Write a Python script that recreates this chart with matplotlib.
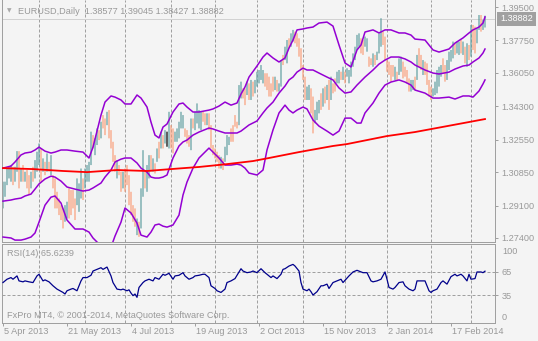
import matplotlib
matplotlib.use("Agg")
import matplotlib.pyplot as plt

plt.rcParams['font.family'] = ['Liberation Sans', 'DejaVu Sans']

# ---------------- data ----------------
symbol = 'EURUSD,Daily'
last_ohlc = [1.38577, 1.39045, 1.38427, 1.38882]
rsi_last = 65.6239

highs = [
    1.3035,1.3035,1.3104,1.3113,1.3122,1.3113,1.3113,1.3195,1.3195,1.3104,1.3122,1.3087,1.3096,1.3069,1.3087,1.3113,1.3148,1.3192,1.3235,1.3209,
    1.3157,1.3139,1.3183,1.3139,1.3174,1.3069,1.3052,1.2982,1.2947,1.2912,1.2895,1.2912,1.2930,1.3000,1.2991,1.2991,1.2947,1.3052,1.3026,1.3104,
    1.3052,1.3104,1.3122,1.3139,1.3297,1.3279,1.3262,1.3314,1.3305,1.3349,1.3384,1.3366,1.3401,1.3410,1.3305,1.3244,1.3174,1.3148,1.3122,1.3087,
    1.3087,1.3104,1.3122,1.3069,1.2982,1.2912,1.2895,1.2842,1.2825,1.3000,1.3200,1.3087,1.3122,1.3174,1.3174,1.3157,1.3131,1.3209,1.3244,1.3297,
    1.3279,1.3305,
    1.3297,1.3401,1.3331,1.3314,1.3297,1.3314,1.3349,1.3401,1.3384,1.3314,1.3305,1.3279,1.3366,1.3366,1.3401,1.3445,1.3410,1.3401,1.3401,1.3393,
    1.3393,1.3393,1.3331,1.3227,1.3209,1.3192,1.3174,1.3165,1.3157,1.3218,1.3279,1.3270,1.3314,1.3331,1.3384,1.3349,1.3541,1.3559,1.3524,1.3524,
    1.3559,
    1.3550,1.3568,1.3559,1.3568,1.3611,1.3620,1.3646,1.3620,1.3603,1.3603,1.3585,1.3550,1.3585,1.3585,1.3568,1.3550,1.3672,1.3699,1.3742,1.3777,
    1.3786,1.3812,1.3830,1.3821,1.3812,1.3786,1.3734,1.3646,1.3585,1.3533,1.3542,1.3524,1.3481,1.3411,1.3454,1.3463,1.3498,1.3524,1.3533,1.3542,
    1.3568,1.3585,
    1.3550,1.3576,1.3611,1.3620,1.3611,1.3637,1.3611,1.3629,1.3620,1.3664,1.3707,1.3742,1.3804,1.3812,1.3786,1.3777,1.3795,1.3786,1.3690,1.3681,
    1.3707,1.3699,1.3716,1.3812,1.3891,1.3821,1.3795,1.3672,1.3664,1.3646,1.3646,1.3637,1.3611,1.3681,1.3690,1.3664,1.3637,1.3620,1.3576,1.3568,
    1.3568,
    1.3585,
    1.3699,1.3734,1.3699,1.3672,1.3664,1.3655,1.3568,1.3533,1.3524,1.3559,1.3620,1.3637,1.3646,1.3681,1.3646,1.3672,1.3716,1.3725,1.3769,1.3760,
    1.3769,1.3769,1.3777,1.3769,1.3742,1.3760,1.3751,1.3856,1.3856,1.3847,1.3838,1.3908,1.3908,1.3882,1.39045,
]

lows = [
    1.2895,1.2956,1.3017,1.3052,1.3035,1.3017,1.3035,1.3087,1.3000,1.3035,1.3035,1.3035,1.3000,1.2965,1.3000,1.3035,1.3052,1.3087,1.3122,1.3035,
    1.3087,1.3069,1.3087,1.3087,1.3069,1.3000,1.2895,1.2895,1.2860,1.2834,1.2790,1.2825,1.2842,1.2842,1.2860,1.2895,1.2834,1.2912,1.2877,1.2947,
    1.2939,1.3000,1.3035,1.3035,1.3122,1.3209,1.3174,1.3227,1.3253,1.3262,1.3314,1.3279,1.3331,1.3262,1.3209,1.3139,1.3087,1.3052,1.3069,1.2982,
    1.3000,1.2982,1.3017,1.2912,1.2860,1.2825,1.2799,1.2755,1.2746,1.2790,1.2956,1.3000,1.2982,1.3052,1.3087,1.3087,1.3078,1.3139,1.3157,1.3209,
    1.3209,1.3235,
    1.3218,1.3209,1.3209,1.3183,1.3244,1.3244,1.3262,1.3314,1.3314,1.3270,1.3235,1.3218,1.3200,1.3314,1.3305,1.3340,1.3314,1.3305,1.3349,1.3331,
    1.3331,1.3305,1.3209,1.3174,1.3157,1.3139,1.3104,1.3104,1.3096,1.3139,1.3174,1.3227,1.3244,1.3244,1.3323,1.3314,1.3331,1.3471,1.3471,1.3436,
    1.3489,
    1.3463,1.3463,1.3481,1.3498,1.3533,1.3550,1.3568,1.3550,1.3533,1.3515,1.3481,1.3481,1.3507,1.3515,1.3507,1.3507,1.3533,1.3646,1.3672,1.3655,
    1.3734,1.3742,1.3769,1.3760,1.3742,1.3690,1.3620,1.3568,1.3463,1.3463,1.3463,1.3393,1.3288,1.3341,1.3358,1.3393,1.3411,1.3428,1.3445,1.3463,
    1.3411,1.3463,
    1.3498,1.3507,1.3550,1.3550,1.3568,1.3568,1.3550,1.3585,1.3550,1.3585,1.3637,1.3672,1.3725,1.3742,1.3707,1.3699,1.3742,1.3716,1.3637,1.3646,
    1.3637,1.3646,1.3672,1.3707,1.3742,1.3751,1.3672,1.3611,1.3594,1.3559,1.3585,1.3568,1.3568,1.3594,1.3611,1.3576,1.3585,1.3550,1.3507,1.3507,
    1.3515,
    1.3515,
    1.3568,1.3637,1.3620,1.3594,1.3594,1.3542,1.3481,1.3463,1.3481,1.3489,1.3498,1.3533,1.3585,1.3603,1.3559,1.3568,1.3620,1.3664,1.3681,1.3699,
    1.3707,1.3699,1.3707,1.3699,1.3655,1.3637,1.3672,1.3690,1.3725,1.3707,1.3760,1.3830,1.3821,1.3830,1.38427,
]

# 1 = bull bar, 0 = bear bar, 2 = doji
direction = [
    1,1,1,1,1,0,1,1,0,1, 0,1,0,0,1,0,1,1,1,0, 1,0,1,0,1,0,0,0,0,0, 0,1,1,0,0,0,0,1,1,1,
    0,1,1,1,1,0,1,1,0,1, 0,0,1,0,0,0,0,1,0,0, 1,0,0,0,0,0,0,1,0,1, 1,0,1,1,0,1,0,1,0,1, 0,1,
    2,1,0,0,1,1,1,1,1,0, 0,0,1,0,1,1,1,1,0,0, 1,0,0,0,0,0,0,1,0,1, 1,1,0,0,0,0,1,1,0,0, 1,
    0,1,0,1,1,1,1,1,0,0, 0,0,0,1,0,1,1,0,1,1, 0,1,1,0,0,0,0,0,0,1, 1,0,0,1,1,1,0,1,0,1, 0,1,
    0,0,1,1,0,1,0,1,1,1, 1,1,1,1,0,0,1,1,0,0, 1,0,1,1,1,0,0,0,0,0, 0,1,0,1,1,0,0,0,0,1, 1,
    0,
    1,0,0,1,0,0,0,0,1,1, 1,1,1,0,0,1,1,1,1,0, 1,1,0,1,0,1,0,1,0,0, 1,1,0,1,1,
]

bb_bars = [0,4,6,9,11,14,16,18,21,24,26,29,32,36,40,43,45,49,51,54,56,59,61,64,67,69,72,74,76,78,
           80,82,85,88,90,92,95,98,103,105,108,111,114,117,119,121,123,127,130,132,135,138,141,143,145,147,150,152,155,158,
           162,165,168,171,174,177,179,181,185,188,191,194,198,201,204,206,211,215,218,223,226,230,233,235,238,240,241]
bb_upper = [1.3106,1.3117,1.3138,1.3175,1.3185,1.3190,1.3201,1.3216,1.3195,1.3185,
            1.3190,1.3201,1.3201,1.3195,1.3190,1.3159,1.3216,1.3384,1.3452,1.3484,
            1.3478,1.3463,1.3442,1.3442,1.3489,1.3473,1.3426,1.3347,1.3279,1.3264,
            1.3321,1.3337,1.3400,1.3442,1.3447,1.3426,1.3400,1.3400,1.3410,1.3416,
            1.3431,1.3452,1.3436,1.3447,1.3494,1.3531,1.3583,1.3641,1.3688,1.3709,
            1.3683,1.3662,1.3683,1.3735,1.3777,1.3830,1.3835,1.3840,1.3845,1.3866,
            1.3871,1.3850,1.3751,1.3657,1.3636,1.3725,1.3751,1.3819,1.3830,1.3814,
            1.3830,1.3830,1.3814,1.3814,1.3803,1.3782,1.3777,1.3725,1.3714,1.3730,
            1.3761,1.3788,1.3814,1.3830,1.3845,1.3866,1.3898]
bb_middle = [1.2933,1.2939,1.2944,1.2949,1.2960,1.2970,1.2996,1.3023,1.3049,1.3064,
             1.3059,1.3038,1.3007,1.2996,1.2986,1.2991,1.3002,1.3028,1.3059,1.3096,
             1.3138,1.3153,1.3159,1.3159,1.3133,1.3106,1.3085,1.3059,1.3054,1.3054,
             1.3059,1.3070,1.3159,1.3222,1.3243,1.3253,1.3279,1.3295,1.3316,1.3311,
             1.3300,1.3290,1.3290,1.3290,1.3300,1.3316,1.3332,1.3353,1.3395,1.3421,
             1.3452,1.3499,1.3536,1.3568,1.3583,1.3609,1.3630,1.3620,1.3620,1.3604,
             1.3583,1.3568,1.3526,1.3499,1.3505,1.3541,1.3562,1.3583,1.3620,1.3651,
             1.3672,1.3688,1.3688,1.3678,1.3662,1.3646,1.3620,1.3604,1.3599,1.3609,
             1.3625,1.3641,1.3646,1.3662,1.3683,1.3709,1.3730]
bb_lower = [1.2745,1.2740,1.2729,1.2729,1.2734,1.2745,1.2766,1.2823,1.2912,1.2954,
            1.2960,1.2923,1.2834,1.2787,1.2787,1.2771,1.2740,1.2698,1.2677,1.2692,
            1.2750,1.2823,1.2897,1.2871,1.2818,1.2755,1.2745,1.2771,1.2808,1.2813,
            1.2802,1.2797,1.2808,1.2860,1.2965,1.3033,1.3106,1.3159,1.3211,1.3190,
            1.3159,1.3122,1.3122,1.3127,1.3122,1.3106,1.3080,1.3070,1.3096,1.3201,
            1.3306,1.3395,1.3436,1.3410,1.3395,1.3410,1.3426,1.3416,1.3358,1.3326,
            1.3300,1.3279,1.3300,1.3368,1.3368,1.3342,1.3342,1.3395,1.3447,1.3499,
            1.3541,1.3557,1.3568,1.3557,1.3541,1.3515,1.3499,1.3473,1.3473,1.3478,
            1.3468,1.3484,1.3484,1.3478,1.3510,1.3547,1.3568]

ma_bars = [0,15,30,42,57,72,84,98,112,125,133,148,165,172,192,206,222,241]
ma_values = [1.3106,1.3101,1.3091,1.3085,1.3096,1.3091,1.3101,1.3112,1.3127,1.3143,
             1.3159,1.3190,1.3222,1.3232,1.3274,1.3295,1.3326,1.3363]

rsi_bars = [0,2,4,5,7,8,10,11,13,15, 17,18,20,21,23,25,27,30,31,32,
            34,35,37,39,40,42,44,45,47,49, 50,52,54,55,57,59,60,62,63,64,
            65,66,67,68,70,71,73,75,76,78, 80,81,83,85,86,88,90,91,93,95,
            96,98,100,101,103,104,106,107,109,111, 112,114,116,117,119,120,122,124,125,127,
            129,131,132,134,135,137,139,140,141,143, 145,146,148,149,150,152,153,154,155,157,
            159,160,162,163,165,167,169,170,173,175, 177,180,182,184,185,187,189,191,192,193,
            195,196,198,200,201,203,205,206,207,210, 211,213,214,215,217,219,220,222,224,226,
            227,229,230,232,233,234,236,237,239,240, 241]
rsi_values = [51.2,55.4,57.5,55.4,59.6,53.3,52.1,53.3,52.1,51.2, 59.6,61.7,53.3,54.6,52.1,47.1,42.9,38.7,36.7,40.8,
              42.9,43.7,40.8,53.3,57.5,57.5,60.4,65.8,67.9,70.0, 67.9,70.8,59.6,51.2,42.9,42.0,42.9,40.8,42.0,37.9,
              34.6,36.7,32.5,45.0,51.2,53.3,55.4,53.3,57.5,55.4, 61.7,60.4,62.9,55.4,59.6,60.4,63.7,59.6,55.4,57.5,
              59.6,60.4,61.7,61.7,57.5,47.1,43.7,40.8,38.7,42.9, 51.2,53.3,56.2,60.4,68.7,65.8,63.7,64.6,65.8,63.7,
              68.7,63.7,61.7,57.5,59.6,56.2,61.7,67.9,68.7,72.1, 74.2,72.1,65.8,51.2,42.9,40.8,42.9,39.6,35.4,39.6,
              47.1,47.1,49.2,43.7,51.2,53.3,55.4,51.2,59.6,64.6, 66.7,63.7,63.7,53.3,52.1,53.3,55.4,64.6,55.4,45.0,
              42.9,45.0,51.2,52.1,47.1,42.9,40.8,42.9,53.3,53.3, 53.3,40.8,38.7,40.8,42.9,51.2,53.3,49.2,58.7,61.7,
              59.6,61.7,59.6,53.3,61.7,55.4,56.2,64.6,64.6,63.7, 65.6]

price_ticks = [1.39500, 1.37750, 1.36050, 1.34300, 1.32550, 1.30850, 1.29100, 1.27400]
rsi_levels = [65, 35]
rsi_range = [0, 100]
month_start_bars = [18, 41, 61, 84, 106, 127, 150, 171, 192, 214, 234]
date_label_bars = [0, 32, 64, 96, 128, 160, 192, 224]
date_labels = ['5 Apr 2013', '21 May 2013', '4 Jul 2013', '19 Aug 2013',
               '2 Oct 2013', '15 Nov 2013', '2 Jan 2014', '17 Feb 2014']
copyright_text = 'FxPro MT4, \u00a9 2001-2014, MetaQuotes Software Corp.'

# ---------------- style ----------------
W, H = 538, 341
BG = '#f4f4f4'
BULL = '#5f9ea0'
BEAR = '#fa9f7a'
DOJI = '#000000'
PURPLE = '#9400d3'
RED = '#ff0000'
RSI_C = '#00008b'
GRID = '#a0a0a0'
SPINE = '#a0a0a0'
TXT = '#999999'
FS = 6.6
PX = 0.72  # one pixel in points

fig = plt.figure(figsize=(W / 100, H / 100), dpi=100, facecolor=BG)

# main price panel (pixels 2..495 horizontally, 0..242 vertically)
ax = fig.add_axes([2 / W, 1 - 242 / H, 493 / W, 242 / H], facecolor=BG)
ax.set_xlim(-0.5, 246)
ax.set_ylim(1.27190, 1.39867)

for b in month_start_bars:
    ax.axvline(b, color=GRID, lw=PX, ls=(0, (3, 2)), zorder=0.5)
ax.axhline(last_ohlc[3], color='#d2d2d2', lw=PX, zorder=0.6)

cmap = {1: BULL, 0: BEAR, 2: DOJI}
bar_colors = [cmap[d] for d in direction]
ax.vlines(range(len(highs)), lows, highs, colors=bar_colors, lw=PX * 1.2,
          antialiased=True, snap=False, zorder=2)

for series in (bb_upper, bb_middle, bb_lower):
    ax.plot(bb_bars, series, color=PURPLE, lw=1.1, zorder=3, solid_joinstyle='round')
ax.plot(ma_bars, ma_values, color=RED, lw=1.3, zorder=3)

ax.set_xticks([])
ax.yaxis.tick_right()
ax.set_yticks(price_ticks)
ax.set_yticklabels([f'{v:.5f}' for v in price_ticks])
ax.tick_params(axis='y', length=3 * PX, width=PX, color=SPINE, pad=2.5,
               labelsize=FS, labelcolor=TXT)
ax.spines['top'].set_visible(False)
for s in ('left', 'right', 'bottom'):
    ax.spines[s].set_color(SPINE)
    ax.spines[s].set_linewidth(PX)

# current price box
ax.annotate(f'{last_ohlc[3]:.5f}', xy=(1, last_ohlc[3]), xycoords=('axes fraction', 'data'),
            xytext=(5, 0), textcoords='offset pixels', ha='left', va='center',
            fontsize=FS, color='white', annotation_clip=False, zorder=5,
            bbox=dict(boxstyle='square,pad=0.3', fc='#a0a0a0', ec='none'))

# header
fig.text(7 / W, 1 - 10.5 / H, '\u25bc', fontsize=4.2, color='#a8a8a8',
         family='DejaVu Sans', ha='left', va='center')
header = symbol + '  ' + ' '.join(f'{v:.5f}' for v in last_ohlc)
fig.text(18 / W, 1 - 11 / H, header, fontsize=FS, color=TXT, ha='left', va='center')

# RSI panel (pixels 244..323 vertically)
ax2 = fig.add_axes([2 / W, 1 - 323 / H, 493 / W, 79 / H], facecolor=BG)
ax2.set_xlim(-0.5, 246)
ax2.set_ylim(rsi_range[0], rsi_range[1])
for b in month_start_bars:
    ax2.axvline(b, color=GRID, lw=PX, ls=(0, (3, 2)), zorder=0.5)
for lv in rsi_levels:
    ax2.axhline(lv, color=GRID, lw=PX, ls=(0, (3, 2)), zorder=0.5)
ax2.plot(rsi_bars, rsi_values, color=RSI_C, lw=0.9, zorder=3)

ax2.yaxis.tick_right()
ax2.set_yticks(rsi_levels)
ax2.set_yticklabels([str(v) for v in rsi_levels])
ax2.tick_params(axis='y', length=3 * PX, width=PX, color=SPINE, pad=2.5,
                labelsize=FS, labelcolor=TXT)
ax2.annotate(str(rsi_range[1]), xy=(1, rsi_range[1]), xycoords=('axes fraction', 'data'),
             xytext=(7, -8), textcoords='offset pixels', ha='left', va='center',
             fontsize=FS, color=TXT, annotation_clip=False)
ax2.annotate(str(rsi_range[0]), xy=(1, rsi_range[0]), xycoords=('axes fraction', 'data'),
             xytext=(7, 6), textcoords='offset pixels', ha='left', va='center',
             fontsize=FS, color=TXT, annotation_clip=False)

ax2.set_xticks(date_label_bars)
ax2.set_xticklabels([''] * len(date_label_bars))
ax2.tick_params(axis='x', length=3 * PX, width=PX, color=SPINE)
for b, lab in zip(date_label_bars, date_labels):
    ax2.annotate(lab, xy=(b, 0), xycoords=('data', 'axes fraction'),
                 xytext=(1, -9), textcoords='offset pixels', ha='left', va='center',
                 fontsize=FS, color=TXT, annotation_clip=False)
for s in ('left', 'right', 'bottom', 'top'):
    ax2.spines[s].set_color(SPINE)
    ax2.spines[s].set_linewidth(PX)

ax2.text(5 / 493, 1 - 10 / 79, f'RSI(14) {rsi_last:.4f}', transform=ax2.transAxes,
         fontsize=FS, color=TXT, ha='left', va='center')
ax2.text(5 / 493, 7 / 79, copyright_text, transform=ax2.transAxes,
         fontsize=FS, color=TXT, ha='left', va='center', zorder=1)

fig.savefig('out.png', dpi=100, facecolor=BG)
